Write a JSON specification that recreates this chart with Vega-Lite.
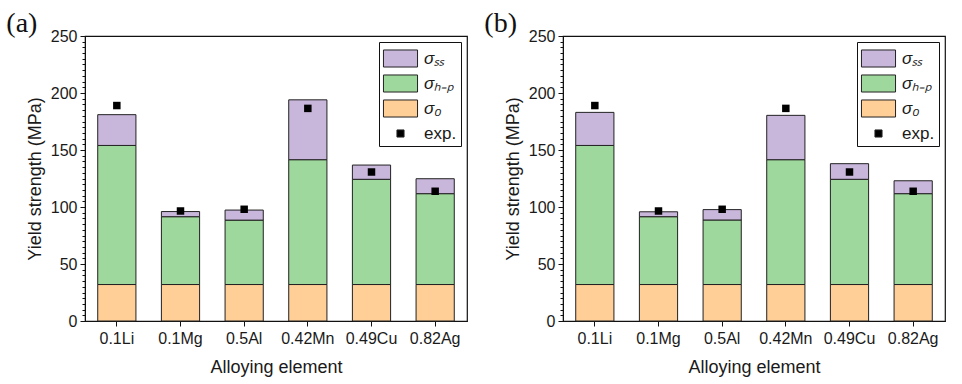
{
  "$schema": "https://vega.github.io/schema/vega-lite/v6.json",
  "padding": {"left": 5, "top": 9, "right": 5, "bottom": 5},
  "background": "white",
  "datasets": {
    "bars": [
      {"panel": "a", "alloy": "0.1Li", "comp": "σ0", "value": 32},
      {"panel": "a", "alloy": "0.1Li", "comp": "σH-P", "value": 122},
      {"panel": "a", "alloy": "0.1Li", "comp": "σss", "value": 27},
      {"panel": "a", "alloy": "0.1Mg", "comp": "σ0", "value": 32},
      {"panel": "a", "alloy": "0.1Mg", "comp": "σH-P", "value": 59.5},
      {"panel": "a", "alloy": "0.1Mg", "comp": "σss", "value": 4.5},
      {"panel": "a", "alloy": "0.5Al", "comp": "σ0", "value": 32},
      {"panel": "a", "alloy": "0.5Al", "comp": "σH-P", "value": 56.5},
      {"panel": "a", "alloy": "0.5Al", "comp": "σss", "value": 8.8},
      {"panel": "a", "alloy": "0.42Mn", "comp": "σ0", "value": 32},
      {"panel": "a", "alloy": "0.42Mn", "comp": "σH-P", "value": 109.5},
      {"panel": "a", "alloy": "0.42Mn", "comp": "σss", "value": 52.5},
      {"panel": "a", "alloy": "0.49Cu", "comp": "σ0", "value": 32},
      {"panel": "a", "alloy": "0.49Cu", "comp": "σH-P", "value": 92.3},
      {"panel": "a", "alloy": "0.49Cu", "comp": "σss", "value": 12.5},
      {"panel": "a", "alloy": "0.82Ag", "comp": "σ0", "value": 32},
      {"panel": "a", "alloy": "0.82Ag", "comp": "σH-P", "value": 79.7},
      {"panel": "a", "alloy": "0.82Ag", "comp": "σss", "value": 13.1},
      {"panel": "b", "alloy": "0.1Li", "comp": "σ0", "value": 32},
      {"panel": "b", "alloy": "0.1Li", "comp": "σH-P", "value": 122},
      {"panel": "b", "alloy": "0.1Li", "comp": "σss", "value": 29},
      {"panel": "b", "alloy": "0.1Mg", "comp": "σ0", "value": 32},
      {"panel": "b", "alloy": "0.1Mg", "comp": "σH-P", "value": 59.5},
      {"panel": "b", "alloy": "0.1Mg", "comp": "σss", "value": 4.3},
      {"panel": "b", "alloy": "0.5Al", "comp": "σ0", "value": 32},
      {"panel": "b", "alloy": "0.5Al", "comp": "σH-P", "value": 56.6},
      {"panel": "b", "alloy": "0.5Al", "comp": "σss", "value": 9.1},
      {"panel": "b", "alloy": "0.42Mn", "comp": "σ0", "value": 32},
      {"panel": "b", "alloy": "0.42Mn", "comp": "σH-P", "value": 109.5},
      {"panel": "b", "alloy": "0.42Mn", "comp": "σss", "value": 38.9},
      {"panel": "b", "alloy": "0.49Cu", "comp": "σ0", "value": 32},
      {"panel": "b", "alloy": "0.49Cu", "comp": "σH-P", "value": 92.3},
      {"panel": "b", "alloy": "0.49Cu", "comp": "σss", "value": 13.7},
      {"panel": "b", "alloy": "0.82Ag", "comp": "σ0", "value": 32},
      {"panel": "b", "alloy": "0.82Ag", "comp": "σH-P", "value": 79.7},
      {"panel": "b", "alloy": "0.82Ag", "comp": "σss", "value": 11.3}
    ],
    "exp": [
      {"panel": "a", "alloy": "0.1Li", "exp": 189},
      {"panel": "a", "alloy": "0.1Mg", "exp": 96.5},
      {"panel": "a", "alloy": "0.5Al", "exp": 98},
      {"panel": "a", "alloy": "0.42Mn", "exp": 186.5},
      {"panel": "a", "alloy": "0.49Cu", "exp": 130.7},
      {"panel": "a", "alloy": "0.82Ag", "exp": 113.8},
      {"panel": "b", "alloy": "0.1Li", "exp": 189},
      {"panel": "b", "alloy": "0.1Mg", "exp": 96.5},
      {"panel": "b", "alloy": "0.5Al", "exp": 98},
      {"panel": "b", "alloy": "0.42Mn", "exp": 186.5},
      {"panel": "b", "alloy": "0.49Cu", "exp": 130.7},
      {"panel": "b", "alloy": "0.82Ag", "exp": 113.8}
    ]
  },
  "config": {
    "font": "Liberation Sans",
    "view": {"stroke": "#111", "strokeWidth": 1.2},
    "axis": {
      "domainColor": "#111",
      "tickColor": "#111",
      "ticks": true,
      "tickWidth": 1,
      "labelColor": "#1a1a1a",
      "titleColor": "#1a1a1a",
      "labelFont": "Liberation Sans",
      "titleFont": "Liberation Sans",
      "labelFontSize": 16,
      "titleFontSize": 18,
      "titleFontWeight": "normal",
      "grid": false
    },
    "legend": {
      "orient": "top-right",
      "offset": 6,
      "padding": 4,
      "fillColor": "white",
      "strokeColor": "#111",
      "title": null,
      "symbolType": "M-1.42,-0.71H1.42V0.71H-1.42Z",
      "symbolSize": 576,
      "symbolOffset": 5,
      "symbolStrokeColor": "#222",
      "symbolStrokeWidth": 1,
      "symbolOpacity": 1,
      "labelFont": "Liberation Sans",
      "labelFontSize": 17,
      "labelColor": "#1a1a1a",
      "labelOffset": 11,
      "rowPadding": 1
    }
  },
  "hconcat": [
    {
      "title": {"text": "(a)", "anchor": "start", "frame": "bounds", "font": "Liberation Serif", "fontSize": 28, "fontWeight": "normal", "color": "#111", "dx": -20, "offset": -10},
      "width": 382,
      "height": 285,
      "resolve": {"axis": {"y": "independent"}},
      "layer": [
        {
          "data": {"name": "bars"},
          "transform": [{"filter": "datum.panel === 'a'"}],
          "mark": {"type": "bar", "stroke": "#222", "strokeWidth": 1},
          "encoding": {
            "x": {"field": "alloy", "type": "nominal", "sort": ["0.1Li", "0.1Mg", "0.5Al", "0.42Mn", "0.49Cu", "0.82Ag"],
              "scale": {"paddingInner": 0.4, "paddingOuter": 0.2},
              "axis": {"title": "Alloying element", "labelAngle": 0, "ticks": true, "tickSize": 5, "labelPadding": 4, "titlePadding": 12}},
            "y": {"field": "value", "type": "quantitative", "stack": "zero",
              "scale": {"domain": [0, 250], "nice": false},
              "axis": {"title": "Yield strength (MPa)", "orient": "left", "values": [0, 50, 100, 150, 200, 250], "ticks": true, "tickSize": 5, "labelPadding": 3, "titlePadding": 6}},
            "color": {"field": "comp", "type": "nominal",
              "scale": {"domain": ["σss", "σH-P", "σ0", "exp."], "range": ["#C9B6DB", "#9FD89C", "#FFCF97", "#000000"]},
              "legend": {
                "labelExpr": "datum.label === 'σss' ? 'σₛₛ' : datum.label === 'σH-P' ? 'σₕ₋ₚ' : datum.label === 'σ0' ? 'σ₀' : 'exp.'",
                "encode": {
                  "symbols": {"update": {
                    "shape": {"signal": "datum.value === 'exp.' ? 'square' : 'M-1.42,-0.71H1.42V0.71H-1.42Z'"},
                    "size": {"signal": "datum.value === 'exp.' ? 50 : 576"}
                  }},
                  "labels": {"update": {"fontStyle": {"signal": "datum.value === 'exp.' ? 'normal' : 'italic'"}}}
                }
              }},
            "order": {"field": "comp", "sort": "ascending"}
          }
        },
        {
          "data": {"name": "exp"},
          "transform": [{"filter": "datum.panel === 'a'"}],
          "mark": {"type": "square", "size": 56, "filled": true, "opacity": 1},
          "encoding": {
            "x": {"field": "alloy", "type": "nominal", "sort": ["0.1Li", "0.1Mg", "0.5Al", "0.42Mn", "0.49Cu", "0.82Ag"]},
            "y": {"field": "exp", "type": "quantitative",
              "axis": {"orient": "left", "title": null, "labels": false, "domain": false, "ticks": true, "tickSize": 3,
                "values": [0,5,10,15,20,25,30,35,40,45,55,60,65,70,75,80,85,90,95,105,110,115,120,125,130,135,140,145,155,160,165,170,175,180,185,190,195,205,210,215,220,225,230,235,240,245]}},
            "color": {"datum": "exp."}
          }
        }
      ]
    },
    {
      "title": {"text": "(b)", "anchor": "start", "frame": "bounds", "font": "Liberation Serif", "fontSize": 28, "fontWeight": "normal", "color": "#111", "dx": -20, "offset": -10},
      "width": 382,
      "height": 285,
      "resolve": {"axis": {"y": "independent"}},
      "layer": [
        {
          "data": {"name": "bars"},
          "transform": [{"filter": "datum.panel === 'b'"}],
          "mark": {"type": "bar", "stroke": "#222", "strokeWidth": 1},
          "encoding": {
            "x": {"field": "alloy", "type": "nominal", "sort": ["0.1Li", "0.1Mg", "0.5Al", "0.42Mn", "0.49Cu", "0.82Ag"],
              "scale": {"paddingInner": 0.4, "paddingOuter": 0.2},
              "axis": {"title": "Alloying element", "labelAngle": 0, "ticks": true, "tickSize": 5, "labelPadding": 4, "titlePadding": 12}},
            "y": {"field": "value", "type": "quantitative", "stack": "zero",
              "scale": {"domain": [0, 250], "nice": false},
              "axis": {"title": "Yield strength (MPa)", "orient": "left", "values": [0, 50, 100, 150, 200, 250], "ticks": true, "tickSize": 5, "labelPadding": 3, "titlePadding": 6}},
            "color": {"field": "comp", "type": "nominal",
              "scale": {"domain": ["σss", "σH-P", "σ0", "exp."], "range": ["#C9B6DB", "#9FD89C", "#FFCF97", "#000000"]},
              "legend": {
                "labelExpr": "datum.label === 'σss' ? 'σₛₛ' : datum.label === 'σH-P' ? 'σₕ₋ₚ' : datum.label === 'σ0' ? 'σ₀' : 'exp.'",
                "encode": {
                  "symbols": {"update": {
                    "shape": {"signal": "datum.value === 'exp.' ? 'square' : 'M-1.42,-0.71H1.42V0.71H-1.42Z'"},
                    "size": {"signal": "datum.value === 'exp.' ? 50 : 576"}
                  }},
                  "labels": {"update": {"fontStyle": {"signal": "datum.value === 'exp.' ? 'normal' : 'italic'"}}}
                }
              }},
            "order": {"field": "comp", "sort": "ascending"}
          }
        },
        {
          "data": {"name": "exp"},
          "transform": [{"filter": "datum.panel === 'b'"}],
          "mark": {"type": "square", "size": 56, "filled": true, "opacity": 1},
          "encoding": {
            "x": {"field": "alloy", "type": "nominal", "sort": ["0.1Li", "0.1Mg", "0.5Al", "0.42Mn", "0.49Cu", "0.82Ag"]},
            "y": {"field": "exp", "type": "quantitative",
              "axis": {"orient": "left", "title": null, "labels": false, "domain": false, "ticks": true, "tickSize": 3,
                "values": [0,5,10,15,20,25,30,35,40,45,55,60,65,70,75,80,85,90,95,105,110,115,120,125,130,135,140,145,155,160,165,170,175,180,185,190,195,205,210,215,220,225,230,235,240,245]}},
            "color": {"datum": "exp."}
          }
        }
      ]
    }
  ],
  "spacing": 15,
  "resolve": {"legend": {"color": "independent"}}
}
